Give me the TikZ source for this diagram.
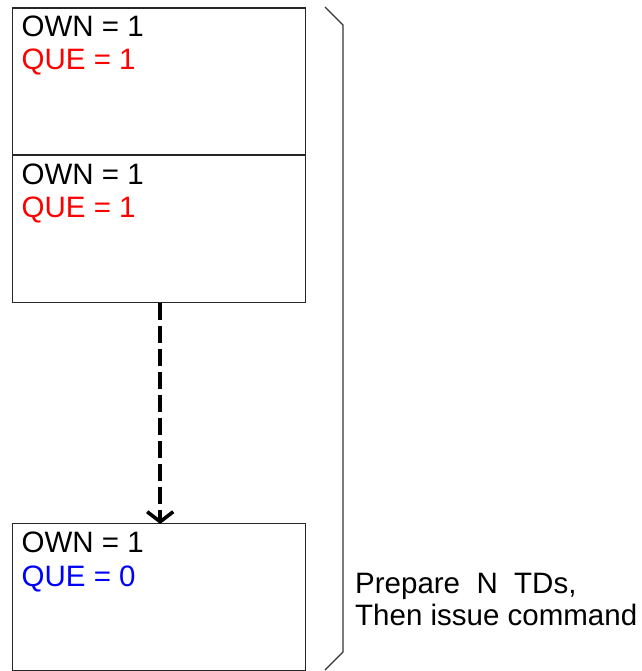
\documentclass[tikz,border=0pt]{standalone}
\usepackage{fontspec}
\setmainfont{Liberation Sans}
\usetikzlibrary{arrows.meta,positioning}

\begin{document}
\begin{tikzpicture}[x=1pt,y=-1pt,font=\fontsize{29.5}{32}\selectfont]
\tikzstyle{td} = [rectangle, draw=black!85, line width=1.4pt, minimum width=293pt, minimum height=147pt, anchor=north west, inner sep=0pt]
\tikzstyle{field} = [anchor=base west, inner sep=0pt]
\tikzstyle{link} = [line width=3.6pt, dash pattern=on 17pt off 6pt, -{Straight Barb[length=10pt,width=26pt]}]
\useasboundingbox (0,0) rectangle (641,671);
% descriptor ring
\node[td] (td1) at (11.5,7.5) {};
\node[td] (td2) at (11.5,155) {};
\node[td] (tdN) at (11.5,523) {};
\node[field] at ([xshift=10pt,yshift=-29pt]td1.north west) {OWN = 1};
\node[field,red] at ([xshift=10pt,yshift=-62pt]td1.north west) {QUE = 1};
\node[field] at ([xshift=10pt,yshift=-29pt]td2.north west) {OWN = 1};
\node[field,red] at ([xshift=10pt,yshift=-62pt]td2.north west) {QUE = 1};
\node[field] at ([xshift=10pt,yshift=-29pt]tdN.north west) {OWN = 1};
\node[field,blue] at ([xshift=10pt,yshift=-63pt]tdN.north west) {QUE = 0};
\draw[link] ([xshift=1.5pt]td2.south) -- ([xshift=1.5pt,yshift=-1pt]tdN.north);
% bracket
\coordinate (b1) at (325,7);
\coordinate (b2) at (343,25);
\coordinate (b3) at (343,652);
\coordinate (b4) at (325,670);
\draw[black!80, line width=1.3pt] (b1) -- (b2) -- (b3) -- (b4);
\node[field, align=left] (note) at (355,625) {Prepare\ \ N\ \ TDs,\\Then issue command};
\end{tikzpicture}
\end{document}
